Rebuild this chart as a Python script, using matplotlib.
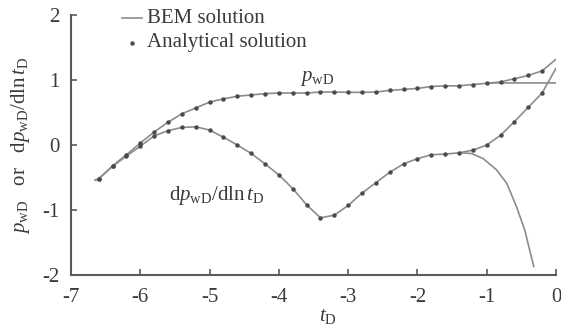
import matplotlib
matplotlib.use("Agg")
import matplotlib.pyplot as plt
import numpy as np

# analytical solution, sampled every 0.2 in log t
t_ana = [-6.6, -6.4, -6.2, -6.0, -5.8, -5.6, -5.4, -5.2, -5.0, -4.8, -4.6,
         -4.4, -4.2, -4.0, -3.8, -3.6, -3.4, -3.2, -3.0, -2.8, -2.6, -2.4,
         -2.2, -2.0, -1.8, -1.6, -1.4, -1.2, -1.0, -0.8, -0.6, -0.4, -0.2]
p_ana = [-0.52, -0.32, -0.15, 0.03, 0.20, 0.35, 0.48, 0.57, 0.66, 0.71, 0.75,
         0.77, 0.79, 0.80, 0.80, 0.80, 0.815, 0.815, 0.81, 0.81, 0.815, 0.84,
         0.855, 0.87, 0.90, 0.91, 0.91, 0.93, 0.95, 0.97, 1.02, 1.07, 1.14]
dp_ana = [-0.52, -0.33, -0.17, -0.02, 0.14, 0.22, 0.27, 0.28, 0.23, 0.12, 0.0,
          -0.13, -0.29, -0.46, -0.67, -0.92, -1.12, -1.08, -0.93, -0.74, -0.58, -0.42,
          -0.29, -0.21, -0.15, -0.14, -0.12, -0.08, 0.0, 0.15, 0.36, 0.58, 0.80]

# BEM solution
t_bem = [-6.65] + t_ana + [0.0]
p_bem = [-0.54] + p_ana + [1.32]
dp_bem = [-0.54] + dp_ana + [1.18]

# BEM branches that split off near the end
t_flat = [-1.0, -0.9, -0.7, -0.4, 0.0]
p_flat = [0.95, 0.955, 0.955, 0.955, 0.955]
t_fall = [-1.4, -1.22, -1.05, -0.86, -0.71, -0.57, -0.45, -0.38, -0.32]
dp_fall = [-0.12, -0.13, -0.21, -0.38, -0.59, -0.95, -1.31, -1.62, -1.87]

plt.rcParams['font.family'] = 'Liberation Serif'
plt.rcParams['mathtext.fontset'] = 'custom'
plt.rcParams['mathtext.rm'] = 'Liberation Serif'
plt.rcParams['mathtext.it'] = 'Liberation Serif:italic'
plt.rcParams['axes.unicode_minus'] = False

TXT = '#3a3a3a'
LINE = '#8c8c8c'
DOT = '#4a4a4a'
FS = 15

fig = plt.figure(figsize=(5.61, 3.28), dpi=100)
ax = fig.add_axes([71/561, 53/328, 485/561, 260/328])

ax.plot(t_bem, p_bem, color=LINE, lw=1.2)
ax.plot(t_bem, dp_bem, color=LINE, lw=1.2)
ax.plot(t_flat, p_flat, color=LINE, lw=1.2)
ax.plot(t_fall, dp_fall, color=LINE, lw=1.2)
ax.plot(t_ana, p_ana, 'o', color=DOT, ms=3.2, mec='none')
ax.plot(t_ana, dp_ana, 'o', color=DOT, ms=3.2, mec='none')

ax.set_xlim(-7, 0)
ax.set_ylim(-2, 2)
ax.set_xticks(np.arange(-7, 1, 1))
ax.set_yticks(np.arange(-2, 3, 1))
for s in ['top', 'right']:
    ax.spines[s].set_visible(False)
for s in ['left', 'bottom']:
    ax.spines[s].set_color('#5a5a5a')
    ax.spines[s].set_linewidth(1.5)
ax.tick_params(direction='in', length=4, width=1.2, color='#5a5a5a',
               labelsize=FS, labelcolor=TXT)
ax.tick_params(axis='x', pad=9)
ax.tick_params(axis='y', pad=8)

ax.set_xlabel(r'$t_{\mathrm{D}}$', fontsize=FS, color=TXT)
ax.xaxis.set_label_coords((328 - 71) / 485, -0.125)
ax.set_ylabel(r'$p_{\mathrm{wD}}$   or   $\mathrm{d}p_{\mathrm{wD}}/\mathrm{dln}\,t_{\mathrm{D}}$',
              fontsize=FS, color=TXT)
ax.yaxis.set_label_coords(-0.08, 0.5)

ax.text(-3.45, 1.03, r'$p_{\mathrm{wD}}$', fontsize=FS, color=TXT, ha='center', va='center')
ax.text(-4.9, -0.77, r'$\mathrm{d}p_{\mathrm{wD}}/\mathrm{dln}\,t_{\mathrm{D}}$',
        fontsize=FS, color=TXT, ha='center', va='center')

# legend drawn by hand, like the original
ax.plot([-6.26, -5.97], [1.95, 1.95], color=LINE, lw=1.2, clip_on=False)
ax.text(-5.9, 1.95, 'BEM solution', fontsize=FS, color=TXT, va='center')
ax.plot([-6.12], [1.57], 'o', color=DOT, ms=3.2, mec='none', clip_on=False)
ax.text(-5.9, 1.57, 'Analytical solution', fontsize=FS, color=TXT, va='center')

fig.savefig('out.png', dpi=100)
